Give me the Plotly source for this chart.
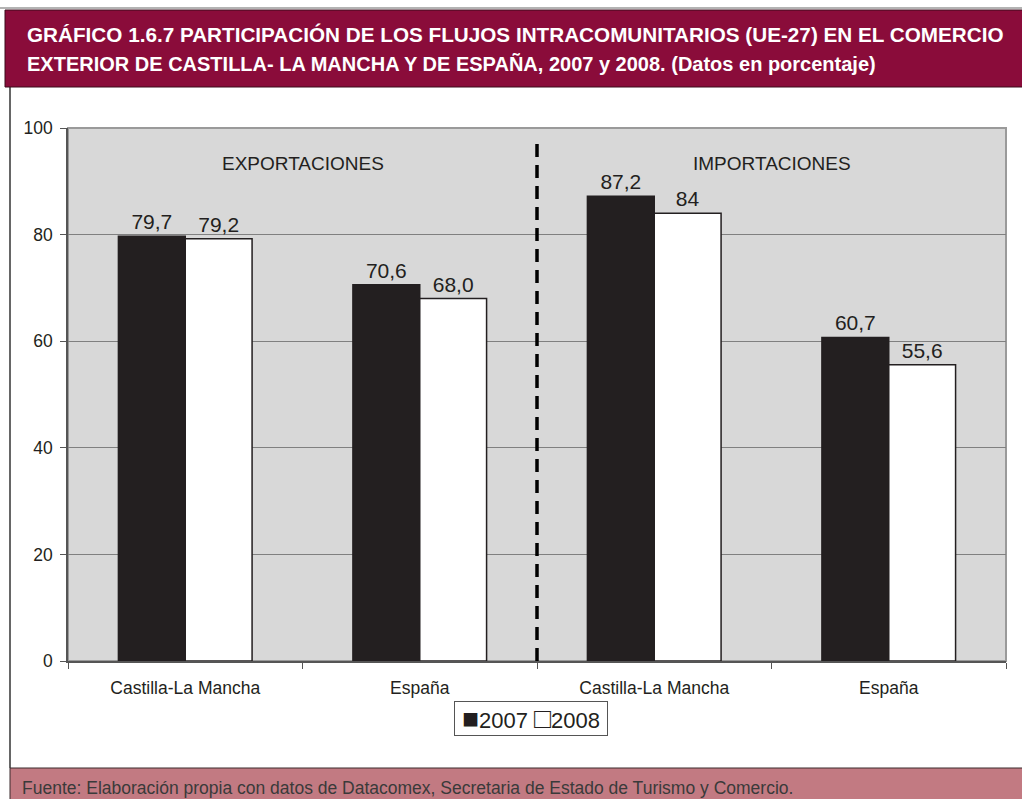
import plotly.graph_objects as go

# Shares of intra-EU (UE-27) trade flows, percent
categories = ["Castilla-La Mancha", "España", "Castilla-La Mancha", "España"]
series_2007 = [79.7, 70.6, 87.2, 60.7]
series_2008 = [79.2, 68.0, 84, 55.6]
labels_2007 = ["79,7", "70,6", "87,2", "60,7"]
labels_2008 = ["79,2", "68,0", "84", "55,6"]
y_ticks = [0, 20, 40, 60, 80, 100]
section_titles = ["EXPORTACIONES", "IMPORTACIONES"]
series_names = ["2007", "2008"]

W, H = 1022, 799
L, R, T, B = 68, 1006, 128, 661  # plot area in pixels


def px(x):
    return (x - L) / (R - L)


def py(y):
    return (B - y) / (B - T)


SANS = "Liberation Sans, Arial, sans-serif"
NARROW = "Liberation Sans Narrow, Arial Narrow, Liberation Sans, sans-serif"
INK = "#231F20"

xs = list(range(len(categories)))
label_font = dict(family=SANS, size=21, color=INK)

fig = go.Figure()
fig.add_trace(go.Bar(
    x=xs, y=series_2007, name=series_names[0], text=labels_2007, textposition="outside",
    textfont=label_font, cliponaxis=False,
    marker=dict(color=INK, line=dict(color=INK, width=1.5)),
))
fig.add_trace(go.Bar(
    x=xs, y=series_2008, name=series_names[1], text=labels_2008, textposition="outside",
    textfont=label_font, cliponaxis=False,
    marker=dict(color="#FFFFFF", line=dict(color=INK, width=1.5)),
))

shapes = [
    # top rule
    dict(type="line", xref="paper", yref="paper", x0=px(0), x1=px(W), y0=py(8), y1=py(8),
         line=dict(color="#9A9A9A", width=1.5), layer="below"),
    # left frame line
    dict(type="line", xref="paper", yref="paper", x0=px(10), x1=px(10), y0=py(87), y1=py(768),
         line=dict(color="#333333", width=1.5)),
    # title band
    dict(type="rect", xref="paper", yref="paper", x0=px(5), x1=px(W + 2), y0=py(87), y1=py(10),
         fillcolor="#8A0C3A", line=dict(color="#3A0A1A", width=1)),
    # footer band
    dict(type="rect", xref="paper", yref="paper", x0=px(10), x1=px(W + 2), y0=py(W), y1=py(768),
         fillcolor="#C27A82", line=dict(color="#3A2A2C", width=1)),
    # plot border
    dict(type="rect", xref="paper", yref="paper", x0=0, x1=1, y0=0, y1=1,
         line=dict(color="#9A9A9A", width=2), layer="below"),
    # separator between exports and imports
    dict(type="line", xref="x", yref="y", x0=1.5, x1=1.5, y0=0, y1=98,
         line=dict(color="#000000", width=3.5, dash="13px,8px")),
]

# legend key drawn as a boxed text line
sq = "<span style='font-size:28px'>{}</span>"
legend_text = f" {sq.format('■')}{series_names[0]} {sq.format('□')}{series_names[1]} "

annotations = [
    dict(text=section_titles[0], x=0.5, y=93.4, xref="x", yref="y", showarrow=False,
         font=dict(family=SANS, size=19, color=INK)),
    dict(text=section_titles[1], x=2.5, y=93.4, xref="x", yref="y", showarrow=False,
         font=dict(family=SANS, size=19, color=INK)),
    dict(text=legend_text, x=px(531), y=py(718), xref="paper", yref="paper",
         xanchor="center", yanchor="middle", showarrow=False,
         font=dict(family=SANS, size=22, color=INK),
         bordercolor="#555555", borderwidth=1, borderpad=1, bgcolor="#FFFFFF"),
    dict(text="GRÁFICO 1.6.7 PARTICIPACIÓN DE LOS FLUJOS INTRACOMUNITARIOS (UE-27) EN EL COMERCIO",
         x=px(25), y=py(35), xref="paper", yref="paper", xanchor="left", yanchor="middle",
         showarrow=False,
         font=dict(family=NARROW, size=20.7, color="#FFFFFF", weight="bold")),
    dict(text="EXTERIOR DE CASTILLA- LA MANCHA Y DE ESPAÑA, 2007 y 2008. (Datos en porcentaje)",
         x=px(25), y=py(64), xref="paper", yref="paper", xanchor="left", yanchor="middle",
         showarrow=False,
         font=dict(family=NARROW, size=20, color="#FFFFFF", weight="bold")),
    dict(text="Fuente: Elaboración propia con datos de Datacomex, Secretaria de Estado de Turismo y Comercio.",
         x=px(20), y=py(788), xref="paper", yref="paper", xanchor="left", yanchor="middle",
         showarrow=False,
         font=dict(family=NARROW, size=17.5, color="#3A3A3A")),
]

fig.update_layout(
    width=W, height=H,
    margin=dict(l=L, r=W - R, t=T, b=H - B, pad=0),
    paper_bgcolor="#FFFFFF",
    plot_bgcolor="#D8D8D8",
    barmode="group", bargap=0.43, bargroupgap=0,
    showlegend=False,
    shapes=shapes,
    annotations=annotations,
)

fig.update_xaxes(
    range=[-0.5, 3.5], tickvals=xs, ticktext=categories, ticks="",
    tickfont=dict(family=SANS, size=17.5, color=INK),
    ticklabelstandoff=10,
    showline=True, linecolor="#555555", linewidth=1.5, showgrid=False, zeroline=False,
    minor=dict(tickvals=[-0.5, 0.5, 1.5, 2.5, 3.5], ticks="outside", ticklen=6,
               tickcolor="#555555", showgrid=False),
)
fig.update_yaxes(
    range=[0, 100], tickvals=y_ticks, ticks="outside", ticklen=6, tickcolor="#555555",
    tickfont=dict(family=SANS, size=17.5, color=INK),
    ticklabelstandoff=4,
    showline=True, linecolor="#555555", linewidth=1.5,
    showgrid=True, gridcolor="#808080", gridwidth=1, zeroline=False,
)

fig.write_html("out.html")
